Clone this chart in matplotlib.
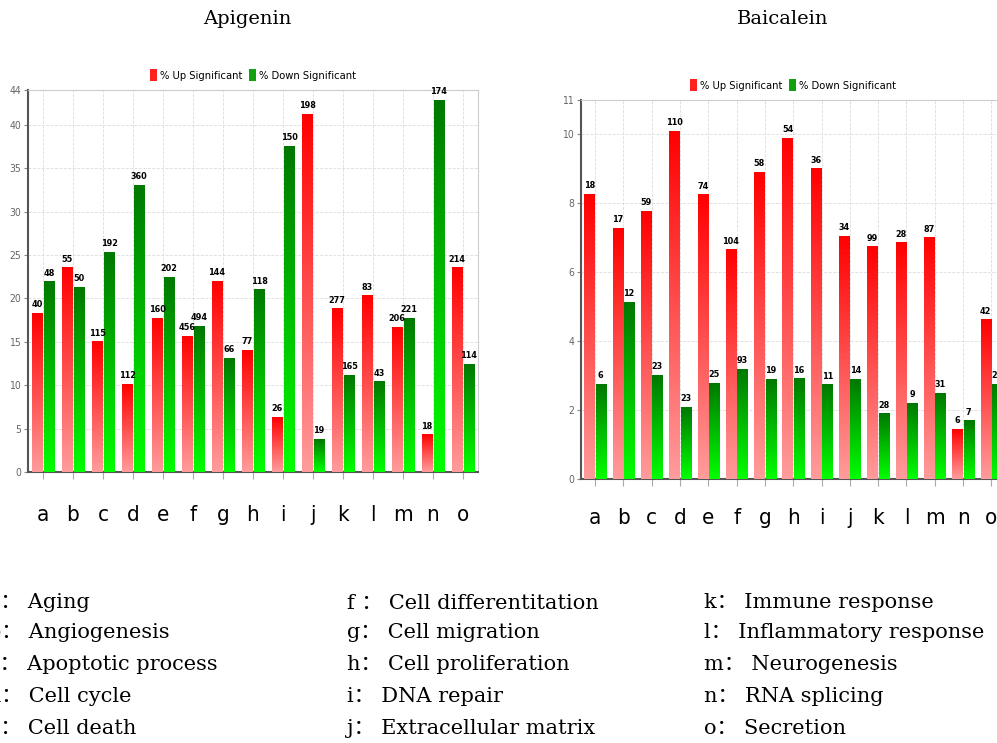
import numpy as np
import matplotlib
matplotlib.use("Agg")
import matplotlib.pyplot as plt
from matplotlib.colors import LinearSegmentedColormap
from matplotlib.patches import Patch

cats = list("abcdefghijklmno")

# Apigenin: % of genes up / down, with gene counts above bars
api_up = [18.3, 23.5, 15.0, 10.1, 17.7, 15.6, 22.0, 14.0, 6.3, 41.2, 18.8, 20.3, 16.7, 4.3, 23.5]
api_down = [21.9, 21.3, 25.3, 33.0, 22.4, 16.8, 13.1, 21.0, 37.5, 3.75, 11.1, 10.4, 17.7, 42.8, 12.4]
api_up_n = [40, 55, 115, 112, 160, 456, 144, 77, 26, 198, 277, 83, 206, 18, 214]
api_down_n = [48, 50, 192, 360, 202, 494, 66, 118, 150, 19, 165, 43, 221, 174, 114]

# Baicalein
bai_up = [8.26, 7.28, 7.76, 10.1, 8.25, 6.65, 8.9, 9.88, 9.0, 7.05, 6.74, 6.85, 7.0, 1.44, 4.62]
bai_down = [2.74, 5.13, 3.0, 2.08, 2.77, 3.18, 2.9, 2.91, 2.73, 2.9, 1.89, 2.2, 2.48, 1.69, 2.74]
bai_up_n = [18, 17, 59, 110, 74, 104, 58, 54, 36, 34, 99, 28, 87, 6, 42]
bai_down_n = [6, 12, 23, 23, 25, 93, 19, 16, 11, 14, 28, 9, 31, 7, 28]

api_yticks = [0, 5, 10, 15, 20, 25, 30, 35, 40, 44]
bai_yticks = [0, 2, 4, 6, 8, 10, 11]

terms = [
    ["a\uff1a Aging", "b\uff1a Angiogenesis", "c\uff1a Apoptotic process", "d\uff1a Cell cycle", "e\uff1a Cell death"],
    ["f \uff1a Cell differentitation", "g\uff1a Cell migration", "h\uff1a Cell proliferation",
     "i\uff1a DNA repair", "j\uff1a Extracellular matrix"],
    ["k\uff1a Immune response", "l\uff1a Inflammatory response", "m\uff1a Neurogenesis",
     "n\uff1a RNA splicing", "o\uff1a Secretion"],
]

narrow = dict(family="DejaVu Sans", stretch="condensed")
serif = ["DejaVu Serif", "Noto Sans CJK SC"]

red_cm = LinearSegmentedColormap.from_list("r", ["#ff9c9c", "#ff0000"])
green_cm = LinearSegmentedColormap.from_list("g", ["#00ff00", "#007800"])
grad = np.linspace(0, 1, 256).reshape(-1, 1)

W, H = 997, 743
fig = plt.figure(figsize=(W / 100, H / 100), dpi=100)


def shade(ax, bars, cmap, counts):
    for b, n in zip(bars, counts):
        x, w, h = b.get_x(), b.get_width(), b.get_height()
        ax.imshow(grad, cmap=cmap, origin="lower", aspect="auto",
                  extent=[x, x + w, 0, h], zorder=3)
        b.set_facecolor("none")
        ax.annotate(str(n), (x + w / 2, h), xytext=(0, 3), textcoords="offset points",
                    ha="center", va="bottom", fontsize=6.5, fontweight="bold",
                    zorder=4, **narrow)


def chart(rect, up, down, up_n, down_n, yticks, xpad):
    ax = fig.add_axes(rect)
    x = np.arange(len(cats))
    w = 0.36
    b1 = ax.bar(x - 0.2, up, w, zorder=3)
    b2 = ax.bar(x + 0.2, down, w, zorder=3)
    shade(ax, b1, red_cm, up_n)
    shade(ax, b2, green_cm, down_n)
    ax.set_xlim(-0.5, len(cats) - 0.5)
    ax.set_ylim(0, yticks[-1])
    ax.set_xticks(x)
    ax.set_xticklabels(cats, fontsize=16, **narrow)
    ax.set_yticks(yticks)
    ax.set_yticklabels([str(t) for t in yticks], fontsize=7.5, color="#666", **narrow)
    ax.tick_params(axis="x", length=5, color="#aaa", pad=xpad)
    ax.tick_params(axis="y", length=3, color="#888", pad=2)
    ax.grid(True, color="#dddddd", linestyle="--", linewidth=0.6, zorder=0)
    for s in ["left", "bottom"]:
        ax.spines[s].set_color("#555")
        ax.spines[s].set_linewidth(1.5)
    for s in ["top", "right"]:
        ax.spines[s].set_color("#cccccc")
        ax.spines[s].set_linewidth(0.8)
    handles = [Patch(facecolor="#ff2020", label="% Up Significant"),
               Patch(facecolor="#10a010", label="% Down Significant")]
    ax.legend(handles=handles, loc="lower center", bbox_to_anchor=(0.5, 1.0), ncol=2,
              frameon=False, prop=dict(size=8, **narrow), handlelength=0.6,
              handleheight=1.3, handletextpad=0.3, columnspacing=0.6, borderaxespad=0.4)
    return ax


def px_rect(x0, x1, ytop, ybot):
    return [x0 / W, 1 - ybot / H, (x1 - x0) / W, (ybot - ytop) / H]


chart(px_rect(28, 478, 90, 472), api_up, api_down, api_up_n, api_down_n, api_yticks, 19)
chart(px_rect(581, 1005.5, 100, 479), bai_up, bai_down, bai_up_n, bai_down_n, bai_yticks, 16)

fig.text(247 / W, 1 - 19 / H, "Apigenin", ha="center", va="center", family=serif, fontsize=14)
fig.text(783 / W, 1 - 19 / H, "Baicalein", ha="center", va="center", family=serif, fontsize=14)

# left column is cut by the image edge, as in the source figure
col_x = [-12, 347, 704]
row_y = [603, 633, 665, 697, 728]
for cx, col in zip(col_x, terms):
    for ry, t in zip(row_y, col):
        fig.text(cx / W, 1 - ry / H, t, ha="left", va="center", family=serif, fontsize=15)

fig.savefig("out.png", dpi=100)
